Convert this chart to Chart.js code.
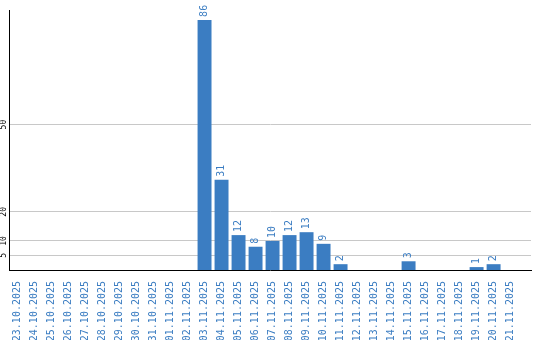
<!DOCTYPE html>
<html>
<head>
<meta charset="utf-8">
<script src="https://cdn.jsdelivr.net/npm/chart.js@4.4.1/dist/chart.umd.min.js"></script>
<style>
  html, body { margin: 0; padding: 0; background: #fff; }
  #wrap { width: 540px; height: 340px; }
</style>
</head>
<body>
<div id="wrap"><canvas id="chart"></canvas></div>
<script>
const days = [
  '23.10.2025', '24.10.2025', '25.10.2025', '26.10.2025', '27.10.2025', '28.10.2025',
  '29.10.2025', '30.10.2025', '31.10.2025', '01.11.2025', '02.11.2025', '03.11.2025',
  '04.11.2025', '05.11.2025', '06.11.2025', '07.11.2025', '08.11.2025', '09.11.2025',
  '10.11.2025', '11.11.2025', '12.11.2025', '13.11.2025', '14.11.2025', '15.11.2025',
  '16.11.2025', '17.11.2025', '18.11.2025', '19.11.2025', '20.11.2025', '21.11.2025'
];
const counts = [
  0, 0, 0, 0, 0, 0,
  0, 0, 0, 0, 0, 86,
  31, 12, 8, 10, 12, 13,
  9, 2, 0, 0, 0, 3,
  0, 0, 0, 1, 2, 0
];
const yTicks = [5, 10, 20, 50];

const blue = '#3b7dc2';

// numbers written upright above each bar
const barLabels = {
  id: 'barLabels',
  afterDatasetsDraw(chart) {
    const ctx = chart.ctx;
    const meta = chart.getDatasetMeta(0);
    ctx.save();
    ctx.fillStyle = blue;
    ctx.font = '10px "DejaVu Sans Mono"';
    ctx.textAlign = 'left';
    ctx.textBaseline = 'middle';
    meta.data.forEach((bar, i) => {
      if (!counts[i]) return;
      ctx.save();
      ctx.translate(bar.x, bar.y - 3);
      ctx.rotate(-Math.PI / 2);
      ctx.fillText(String(counts[i]), 0, 0);
      ctx.restore();
    });
    ctx.restore();
  }
};

new Chart(document.getElementById('chart'), {
  type: 'bar',
  data: {
    labels: days,
    datasets: [{
      data: counts,
      backgroundColor: blue,
      borderWidth: 0,
      barPercentage: 0.82,
      categoryPercentage: 1
    }]
  },
  options: {
    responsive: true,
    maintainAspectRatio: false,
    animation: false,
    layout: { padding: { top: 10, right: 9, left: 0, bottom: 0 } },
    plugins: {
      legend: { display: false },
      tooltip: { enabled: false }
    },
    scales: {
      x: {
        grid: { display: false },
        border: { color: '#000', width: 1 },
        ticks: {
          color: blue,
          font: { family: 'DejaVu Sans Mono', size: 10 },
          minRotation: 90,
          maxRotation: 90,
          autoSkip: false,
          padding: 3
        },
        afterBuildTicks: s => { s._valueRange = 30.7; },
        afterFit: s => { s.height = 70; }
      },
      y: {
        min: 0,
        max: 89.4,
        grid: { color: '#c8c8c8', drawTicks: false },
        border: { color: '#000', width: 1 },
        afterBuildTicks: s => { s.ticks = yTicks.map(v => ({ value: v })); },
        ticks: {
          color: '#000',
          font: { family: 'DejaVu Sans Mono', size: 8 },
          minRotation: 90,
          maxRotation: 90,
          crossAlign: 'center',
          padding: 0
        },
        afterFit: s => { s.width = 9; }
      }
    }
  },
  plugins: [barLabels]
});
</script>
</body>
</html>
